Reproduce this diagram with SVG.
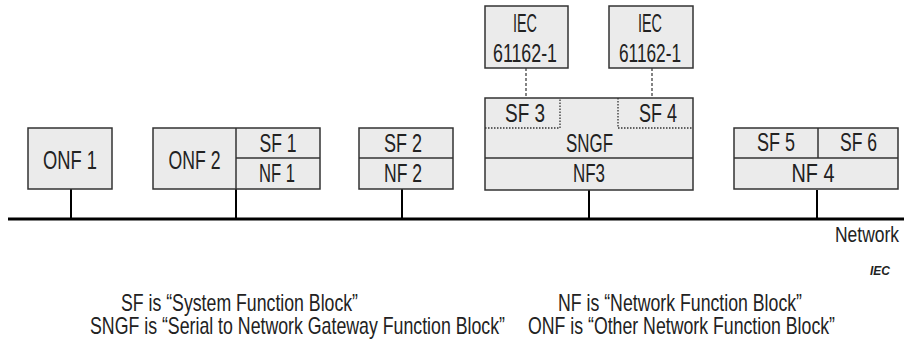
<svg xmlns="http://www.w3.org/2000/svg" width="904" height="354" viewBox="0 0 904 354">
<style>
  .box { fill: #ebebeb; stroke: #333; stroke-width: 1.5; }
  .div { stroke: #333; stroke-width: 1.5; fill: none; }
  .dot { stroke: #333; stroke-width: 1.3; stroke-dasharray: 1.5 1.5; fill: none; }
  .dash { stroke: #333; stroke-width: 1.2; stroke-dasharray: 3 2; fill: none; }
  .conn { stroke: #000; stroke-width: 2; fill: none; }
  .bus { stroke: #000; stroke-width: 3; fill: none; }
  text { font-family: "Liberation Sans Narrow", "Liberation Sans", Arial, sans-serif; fill: #222; }
  .t { font-size: 26px; text-anchor: middle; }
  .leg { font-size: 24px; }
  .iec { font-size: 12px; font-style: italic; font-weight: bold; }
</style>

<g id="connectors">
  <line class="bus" x1="8" y1="219" x2="904" y2="219"/>
  <line class="conn" x1="71" y1="189" x2="71" y2="219"/>
  <line class="conn" x1="236" y1="189" x2="236" y2="219"/>
  <line class="conn" x1="402" y1="189" x2="402" y2="219"/>
  <line class="conn" x1="589" y1="190" x2="589" y2="219"/>
  <line class="conn" x1="817" y1="190" x2="817" y2="219"/>
  <line class="dash" x1="526" y1="68" x2="526" y2="98"/>
  <line class="dash" x1="652" y1="68" x2="652" y2="98"/>
</g>

<g id="onf1">
  <rect class="box" x="28" y="128" width="84" height="61"/>
  <text class="t" x="70" y="169" textLength="54" lengthAdjust="spacingAndGlyphs">ONF 1</text>
</g>

<g id="onf2">
  <rect class="box" x="153" y="128" width="167" height="61"/>
  <line class="div" x1="236" y1="128" x2="236" y2="189"/>
  <line class="div" x1="236" y1="158" x2="320" y2="158"/>
  <text class="t" x="194.5" y="169" textLength="52" lengthAdjust="spacingAndGlyphs">ONF 2</text>
  <text class="t" x="278" y="152" textLength="37" lengthAdjust="spacingAndGlyphs">SF 1</text>
  <text class="t" x="277" y="182" textLength="36" lengthAdjust="spacingAndGlyphs">NF 1</text>
</g>

<g id="nf2">
  <rect class="box" x="359" y="128" width="94" height="61"/>
  <line class="div" x1="359" y1="158" x2="453" y2="158"/>
  <text class="t" x="403" y="152" textLength="38" lengthAdjust="spacingAndGlyphs">SF 2</text>
  <text class="t" x="403" y="182" textLength="38" lengthAdjust="spacingAndGlyphs">NF 2</text>
</g>

<g id="iec1">
  <rect class="box" x="485" y="6" width="83" height="62"/>
  <text class="t" x="525" y="32" textLength="24" lengthAdjust="spacingAndGlyphs">IEC</text>
  <text class="t" x="525" y="62" textLength="64" lengthAdjust="spacingAndGlyphs">61162-1</text>
</g>

<g id="iec2">
  <rect class="box" x="609" y="6" width="84" height="62"/>
  <text class="t" x="650" y="32" textLength="24" lengthAdjust="spacingAndGlyphs">IEC</text>
  <text class="t" x="650" y="62" textLength="62" lengthAdjust="spacingAndGlyphs">61162-1</text>
</g>

<g id="nf3">
  <rect class="box" x="485" y="98" width="208" height="92"/>
  <line class="div" x1="485" y1="158" x2="693" y2="158"/>
  <polyline class="dot" points="485,128 560,128 560,98"/>
  <polyline class="dot" points="618,98 618,128 693,128"/>
  <text class="t" x="525" y="122" textLength="40" lengthAdjust="spacingAndGlyphs">SF 3</text>
  <text class="t" x="658" y="122" textLength="38" lengthAdjust="spacingAndGlyphs">SF 4</text>
  <text class="t" x="589.5" y="152" textLength="47" lengthAdjust="spacingAndGlyphs">SNGF</text>
  <text class="t" x="589" y="182" textLength="32" lengthAdjust="spacingAndGlyphs">NF3</text>
</g>

<g id="nf4">
  <rect class="box" x="734" y="128" width="164" height="61"/>
  <line class="div" x1="734" y1="158" x2="898" y2="158"/>
  <line class="div" x1="818" y1="128" x2="818" y2="158"/>
  <text class="t" x="776" y="151" textLength="38" lengthAdjust="spacingAndGlyphs">SF 5</text>
  <text class="t" x="858.5" y="151" textLength="37" lengthAdjust="spacingAndGlyphs">SF 6</text>
  <text class="t" x="813" y="182" textLength="43" lengthAdjust="spacingAndGlyphs">NF 4</text>
</g>

<g id="labels">
  <text x="835" y="242" style="font-size:22px" textLength="64" lengthAdjust="spacingAndGlyphs">Network</text>
  <text class="iec" x="870" y="275" textLength="20" lengthAdjust="spacingAndGlyphs">IEC</text>
  <text class="leg" x="121" y="311" textLength="237" lengthAdjust="spacingAndGlyphs">SF is “System Function Block”</text>
  <text class="leg" x="90" y="334" textLength="415" lengthAdjust="spacingAndGlyphs">SNGF is “Serial to Network Gateway Function Block”</text>
  <text class="leg" x="558" y="311" textLength="244" lengthAdjust="spacingAndGlyphs">NF is “Network Function Block”</text>
  <text class="leg" x="528" y="334" textLength="307" lengthAdjust="spacingAndGlyphs">ONF is “Other Network Function Block”</text>
</g>
</svg>
